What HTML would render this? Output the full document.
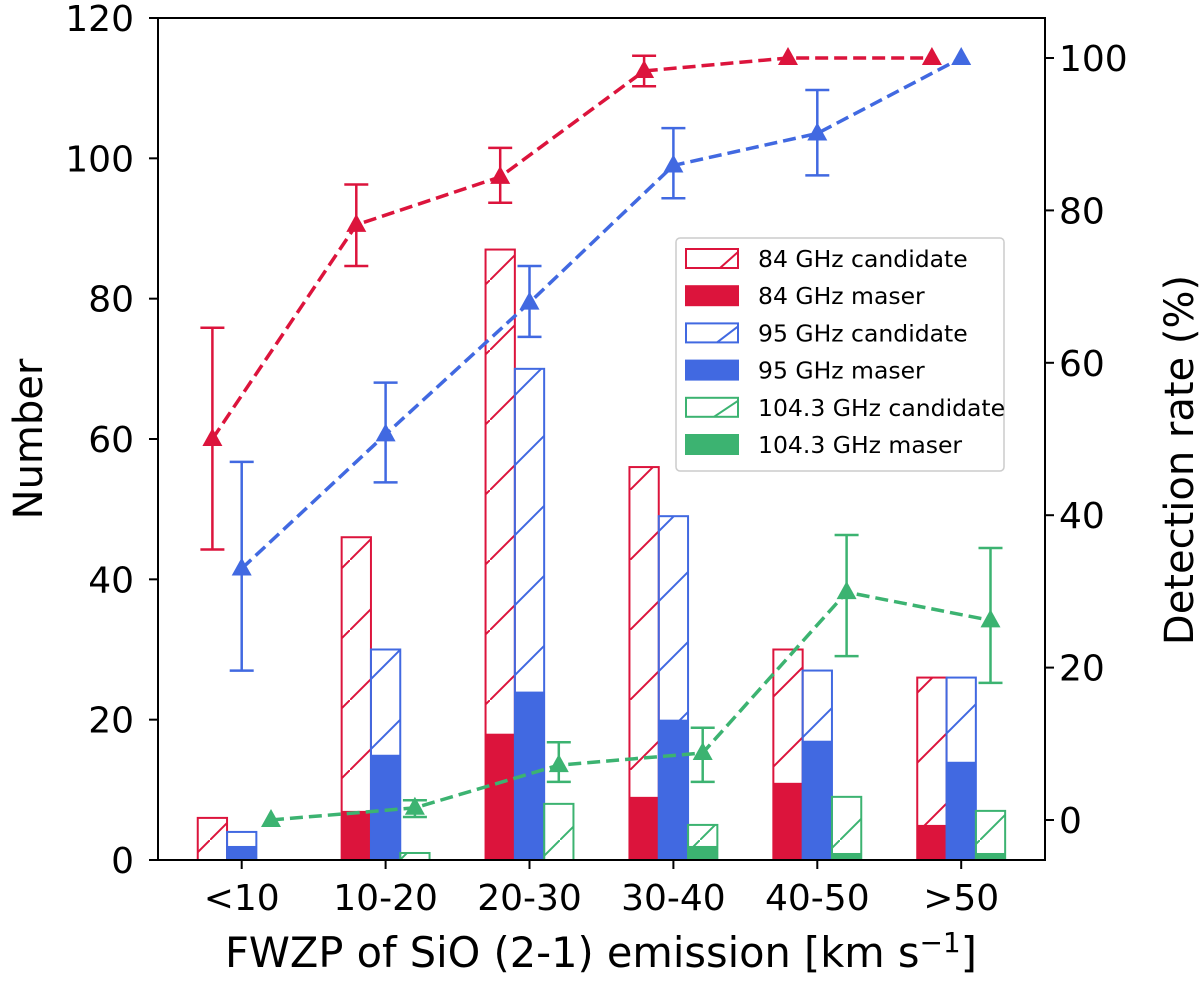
<!DOCTYPE html>
<html><head><meta charset="utf-8"><style>
body{margin:0;background:#fff;}
svg text{font-family:"DejaVu Sans","Liberation Sans",sans-serif;fill:#000;}
</style></head><body>
<svg id="chart" width="1200" height="978" viewBox="0 0 1200 978" xmlns="http://www.w3.org/2000/svg">
<defs>
<pattern id="hatch-red" patternUnits="userSpaceOnUse" width="70" height="70"><path d="M-5,75 L75,-5" stroke="#dc143c" stroke-width="2"/></pattern>
<pattern id="hatch-blue" patternUnits="userSpaceOnUse" width="70" height="70"><path d="M-5,75 L75,-5" stroke="#4169e1" stroke-width="2"/></pattern>
<pattern id="hatch-green" patternUnits="userSpaceOnUse" width="70" height="70"><path d="M-5,75 L75,-5" stroke="#3cb371" stroke-width="2"/></pattern>
</defs>
<g id="bars"></g>
<g id="lines"></g>
<g id="axes"></g>
<g id="legend"></g>
</svg>
<script>
const categories = ["<10","10-20","20-30","30-40","40-50",">50"];
const cand84 = [6,46,87,56,30,26];
const maser84 = [0,7,18,9,11,5];
const cand95 = [4,30,70,49,27,26];
const maser95 = [2,15,24,20,17,14];
const cand104 = [0,1,8,5,9,7];
const maser104 = [0,0,0,2,1,1];
const rate84 = [50,78.1,84.4,98.3,100,100];
const rate84Lo = [35.5,72.7,81.0,96.3,100,100];
const rate84Hi = [64.6,83.4,88.2,100.3,100,100];
const rate95 = [33,50.6,67.9,85.9,90.1,100];
const rate95Lo = [19.6,44.3,63.4,81.6,84.6,100];
const rate95Hi = [47,57.4,72.7,90.8,95.8,100];
const rate104 = [0,1.6,7.2,8.8,29.9,26.2];
const rate104Lo = [0,0.4,5,5,21.5,18];
const rate104Hi = [0,2.6,10.2,12.1,37.4,35.7];
const leftTicks = [0,20,40,60,80,100,120];
const rightTicks = [0,20,40,60,80,100];

const NS="http://www.w3.org/2000/svg";
const X0=158,X1=1045,Y0=18,Y1=860;
const yL=v=>860-v*7.0167;
const yR=v=>820-v*7.62;
const tick=i=>241.7+i*143.9;
const BW=29.3;
const colors={r:"#dc143c",b:"#4169e1",g:"#3cb371"};
function mk(tag,attrs,parent){const e=document.createElementNS(NS,tag);for(const k in attrs)e.setAttribute(k,attrs[k]);parent.appendChild(e);return e;}
const gB=document.getElementById('bars'),gL=document.getElementById('lines'),gA=document.getElementById('axes'),gG=document.getElementById('legend');

const series=[
 {c:cand84,m:maser84,col:colors.r,h:"hatch-red",off:-1,n:"84"},
 {c:cand95,m:maser95,col:colors.b,h:"hatch-blue",off:0,n:"95"},
 {c:cand104,m:maser104,col:colors.g,h:"hatch-green",off:1,n:"104"}];
series.forEach(s=>{
 categories.forEach((cat,i)=>{
  const x=tick(i)+s.off*BW-BW/2;
  if(s.c[i]>0){
   const r=mk('rect',{x:x,y:yL(s.c[i]),width:BW,height:yL(0)-yL(s.c[i]),fill:"url(#"+s.h+")",stroke:s.col,'stroke-width':2},gB);
   
   
  }
  if(s.m[i]>0){
   const r=mk('rect',{x:x,y:yL(s.m[i]),width:BW,height:yL(0)-yL(s.m[i]),fill:s.col},gB);
   
   
  }
 });
});

const lines=[
 {v:rate84,lo:rate84Lo,hi:rate84Hi,col:colors.r,off:-1,n:"84"},
 {v:rate95,lo:rate95Lo,hi:rate95Hi,col:colors.b,off:0,n:"95"},
 {v:rate104,lo:rate104Lo,hi:rate104Hi,col:colors.g,off:1,n:"104"}];
lines.forEach(L=>{
 const pts=L.v.map((v,i)=>[tick(i)+L.off*BW,yR(v)]);
 const p=mk('polyline',{points:pts.map(p=>p.join(',')).join(' '),fill:'none',stroke:L.col,'stroke-width':3.5,'stroke-dasharray':'13,6'},gL);
 
 
 L.v.forEach((v,i)=>{
  const x=pts[i][0];
  if(L.hi[i]!==L.lo[i]){
   const e=mk('path',{d:`M${x},${yR(L.hi[i])}V${yR(L.lo[i])}M${x-12},${yR(L.hi[i])}h24M${x-12},${yR(L.lo[i])}h24`,stroke:L.col,'stroke-width':2.5,fill:'none'},gL);
   
   
  }
  const y=pts[i][1];
  const m=mk('path',{d:`M${x},${y-11}L${x+10},${y+7}L${x-10},${y+7}Z`,fill:L.col},gL);
  
  
 });
});

const fr=mk('rect',{x:X0,y:Y0,width:X1-X0,height:Y1-Y0,fill:'none',stroke:'#000','stroke-width':2},gA);


leftTicks.forEach(t=>{
 const y=yL(t);
 mk('line',{x1:X0-9,x2:X0,y1:y,y2:y,stroke:'#000','stroke-width':2},gA);
 const tx=mk('text',{x:X0-24,y:y+13,'text-anchor':'end','font-size':36},gA);
 tx.textContent=t;
 
 
});
rightTicks.forEach(t=>{
 const y=yR(t);
 mk('line',{x1:X1,x2:X1+9,y1:y,y2:y,stroke:'#000','stroke-width':2},gA);
 const tx=mk('text',{x:X1+14,y:y+13,'font-size':36},gA);
 tx.textContent=t;
 
 
});
categories.forEach((c,i)=>{
 const x=tick(i);
 mk('line',{x1:x,x2:x,y1:Y1,y2:Y1+9,stroke:'#000','stroke-width':2},gA);
 const tx=mk('text',{x:x,y:910,'text-anchor':'middle','font-size':36},gA);
 tx.textContent=c;
 
 
});
let t=mk('text',{x:0,y:0,'text-anchor':'middle','font-size':40,transform:'translate(42,439) rotate(-90)'},gA);
t.textContent='Number';


t=mk('text',{x:0,y:0,'text-anchor':'middle','font-size':40,transform:'translate(1193,460) rotate(-90)'},gA);
t.textContent='Detection rate (%)';


t=mk('text',{x:601,y:967,'text-anchor':'middle','font-size':41.5},gA);
t.innerHTML='FWZP of SiO (2-1) emission [km s<tspan dy="-15" font-size="28">−1</tspan><tspan dy="15">]</tspan>';



const lb=mk('rect',{x:676,y:238,width:328,height:233,rx:4,fill:'#fff','fill-opacity':0.85,stroke:'#ccc','stroke-width':1.5},gG);


const legItems=[["84 GHz candidate",colors.r,true],["84 GHz maser",colors.r,false],["95 GHz candidate",colors.b,true],["95 GHz maser",colors.b,false],["104.3 GHz candidate",colors.g,true],["104.3 GHz maser",colors.g,false]];
legItems.forEach((it,i)=>{
 const yc=259+i*37.2;
 const g=mk('g',{},gG);
 
 
 if(it[2]){
  mk('rect',{x:686,y:yc-10,width:52,height:19,fill:'#fff',stroke:it[1],'stroke-width':2},g);
  mk('line',{x1:720-(i===4?6:0)-(i===2?3:0),y1:yc+9,x2:738,y2:yc-7,stroke:it[1],'stroke-width':2},g);
 } else {
  mk('rect',{x:685,y:yc-11,width:54,height:21,fill:it[1]},g);
 }
 const tx=mk('text',{x:758,y:yc+8,'font-size':23.5},g);
 tx.textContent=it[0];
});
</script>
</body></html>
